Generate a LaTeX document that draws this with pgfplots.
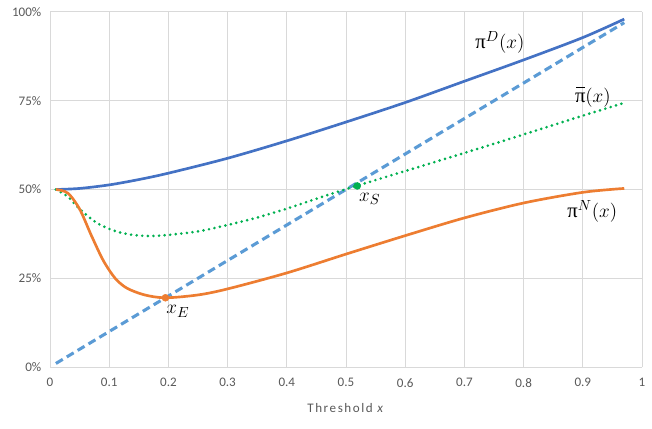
\documentclass[border=0pt]{standalone}
\usepackage{fontspec}
\setmainfont{Carlito}
\newfontfamily\greekf{Liberation Serif}
\usepackage{pgfplots}
\pgfplotsset{compat=1.18}
\definecolor{tickgray}{HTML}{595959}
\definecolor{gridgray}{HTML}{D9D9D9}
\definecolor{cD}{HTML}{4472C4}
\definecolor{cDiag}{HTML}{5B9BD5}
\definecolor{cN}{HTML}{ED7D31}
\definecolor{cBar}{HTML}{00B050}
\newcommand{\lab}[1]{{\fontsize{15.5}{17}\selectfont #1}}
\newcommand{\gp}{{\greekf\fontsize{15.5}{17}\selectfont π}}
\begin{document}
\begin{tikzpicture}[x=1pt,y=1pt]
\begin{axis}[
  name=ax,
  scale only axis,
  width=444pt, height=266.25pt,
  xmin=0, xmax=1, ymin=0, ymax=1,
  xtick={0,0.1,0.2,0.3,0.4,0.5,0.6,0.7,0.8,0.9,1},
  xticklabels={0,0.1,0.2,0.3,0.4,0.5,0.6,0.7,0.8,0.9,1},
  ytick={0,0.25,0.5,0.75,1},
  yticklabels={0\%,25\%,50\%,75\%,100\%},
  grid=major,
  grid style={draw=gridgray, line width=0.75pt},
  axis line style={draw=none},
  major tick length=0pt,
  tick label style={font=\fontsize{9.8}{11}\selectfont, text=tickgray},
  xticklabel style={yshift=-5pt},
  yticklabel style={xshift=-3pt},
  xlabel={\addfontfeature{LetterSpace=12}Threshold \textit{x}},
  xlabel style={font=\fontsize{9.8}{11}\selectfont, text=tickgray, yshift=-5pt},
  clip=false,
]
% pi^D
\addplot[cD, line width=2pt, smooth] coordinates {
 (0.01,0.500) (0.05,0.503) (0.1,0.513) (0.15,0.528) (0.2,0.546) (0.3,0.588) (0.4,0.637) (0.5,0.690) (0.6,0.745) (0.7,0.805) (0.8,0.865) (0.9,0.928) (0.97,0.980)};
% diagonal
\addplot[cDiag, line width=2.3pt, dash pattern=on 6pt off 3.5pt] coordinates {(0.01,0.01) (0.97,0.97)};
% pi bar
\addplot[cBar, line width=2.2pt, dash pattern=on 0pt off 4.2pt, line cap=round, smooth] coordinates {
 (0.01,0.500) (0.03,0.480) (0.05,0.445) (0.08,0.405) (0.11,0.383) (0.14,0.372) (0.17,0.369) (0.2,0.372) (0.25,0.382) (0.3,0.400) (0.35,0.421) (0.4,0.446) (0.45,0.474) (0.5,0.501) (0.6,0.552) (0.7,0.603) (0.8,0.655) (0.9,0.708) (0.97,0.744)};
% pi^N
\addplot[cN, line width=2pt, smooth] coordinates {
 (0.01,0.500) (0.03,0.490) (0.05,0.445) (0.07,0.370) (0.09,0.300) (0.11,0.250) (0.13,0.222) (0.16,0.203) (0.195,0.195) (0.25,0.203) (0.3,0.220) (0.4,0.265) (0.5,0.318) (0.6,0.370) (0.7,0.420) (0.8,0.462) (0.9,0.492) (0.97,0.503)};
% equilibrium points
\addplot[only marks, mark=*, mark size=2.6pt, cN] coordinates {(0.195,0.195)};
\addplot[only marks, mark=*, mark size=2.6pt, cBar] coordinates {(0.519,0.51)};
\node[anchor=center] at (axis cs:0.76,0.915) {\lab{\gp$^{D}(x)$}};
\node[anchor=center] at (axis cs:0.917,0.76) {\lab{\makebox[0pt][l]{\hspace{0.06em}\raisebox{0.7em}{\rule{0.44em}{0.055em}}}\gp$(x)$}};
\node[anchor=center] at (axis cs:0.916,0.437) {\lab{\gp$^{N}(x)$}};
\node[anchor=center] at (axis cs:0.54,0.473) {\lab{$x_S$}};
\node[anchor=center] at (axis cs:0.216,0.157) {\lab{$x_E$}};
\end{axis}
\path ([xshift=-37.5pt,yshift=-45.75pt]ax.south west) rectangle ([xshift=7.5pt,yshift=9pt]ax.north east);
\end{tikzpicture}
\end{document}
